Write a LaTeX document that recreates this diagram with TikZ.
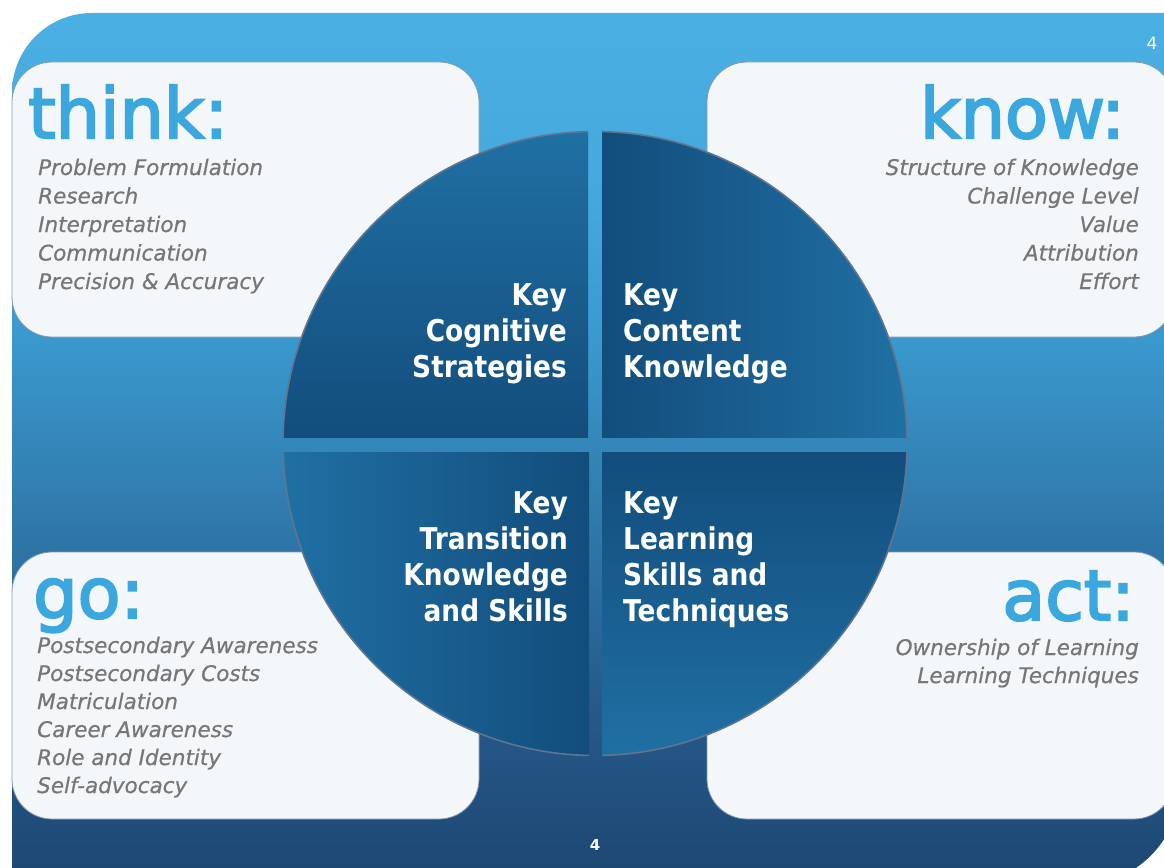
\documentclass[tikz,border=0pt]{standalone}
\usepackage{fontspec}
\setmainfont{DejaVu Sans}
\newfontfamily\headfont[FakeBold=3]{DejaVu Sans}
\newfontfamily\quadfont[FakeStretch=0.88]{DejaVu Sans}
\newfontfamily\itemfont[FakeBold=0.6]{DejaVu Sans}
\definecolor{bgA}{HTML}{1E4874}
\definecolor{bgB}{HTML}{265A8B}
\definecolor{bgC}{HTML}{2E74A6}
\definecolor{bgD}{HTML}{3587BB}
\definecolor{bgE}{HTML}{3A98CD}
\definecolor{bgF}{HTML}{45A8DD}
\definecolor{bgG}{HTML}{4AAFE2}
\definecolor{panelfill}{HTML}{F4F7FA}
\definecolor{paneledge}{HTML}{7F98B0}
\definecolor{headblue}{HTML}{3AA7DE}
\definecolor{itemgray}{HTML}{767676}
\definecolor{rimcol}{HTML}{5F7590}
\definecolor{qlight}{HTML}{2070A4}
\definecolor{qdark}{HTML}{124D7C}
\pgfdeclareverticalshading{bgshade}{100bp}{color(0bp)=(bgA); color(26.03bp)=(bgA); color(35.61bp)=(bgB); color(44.21bp)=(bgC); color(50.52bp)=(bgD); color(56.25bp)=(bgE); color(64.28bp)=(bgF); color(75bp)=(bgG); color(100bp)=(bgG)}
\tikzset{
  panel/.style={fill=panelfill, draw=paneledge, line width=0.8pt, rounded corners=40pt},
  rim/.style={draw=rimcol, line width=1.6pt},
  head/.style={inner sep=0pt, text=headblue, font=\headfont\fontsize{70}{80}\selectfont},
  item/.style={inner sep=0pt, text=itemgray, font=\itemfont\itshape\fontsize{21.5}{26}\selectfont},
  qtext/.style={inner sep=0pt, text=white, font=\quadfont\bfseries\fontsize{30}{36}\selectfont},
  pagenum/.style={inner sep=0pt, text=white}
}
\begin{document}
\begin{tikzpicture}[x=1pt,y=-1pt]
\useasboundingbox (0,0) rectangle (1164,867);
\fill[white] (0,0) rectangle (1164,867);
% blue background
\shade[shading=bgshade] (12,885) -- (12,93) .. controls (12,48.8) and (47.8,13) .. (92,13)
  -- (1180,13) -- (1180,785) .. controls (1180,840.2) and (1135.2,885) .. (1080,885) -- cycle;
% panels
\path[panel] (12,62) rectangle (479,337);
\path[panel] (707,62) rectangle (1174,337);
\path[panel] (12,552) rectangle (479,819);
\path[panel] (707,552) rectangle (1174,819);
% quadrants
\begin{scope}
  \clip (595,443.5) circle[radius=312pt];
  \shade[top color=qlight, bottom color=qdark] (280,130) rectangle (588,437);
  \shade[left color=qdark, right color=qlight] (602,130) rectangle (910,437);
  \shade[left color=qlight, right color=qdark] (280,452) rectangle (589,760);
  \shade[top color=qdark, bottom color=qlight] (602,452) rectangle (910,760);
\end{scope}
\begin{scope}
  \clip (270,120) rectangle (588,437);
  \draw[rim] (595,443.5) circle[radius=312pt];
\end{scope}
\begin{scope}
  \clip (602,120) rectangle (920,437);
  \draw[rim] (595,443.5) circle[radius=312pt];
\end{scope}
\begin{scope}
  \clip (270,452) rectangle (589,770);
  \draw[rim] (595,443.5) circle[radius=312pt];
\end{scope}
\begin{scope}
  \clip (602,452) rectangle (920,770);
  \draw[rim] (595,443.5) circle[radius=312pt];
\end{scope}
% quadrant texts
\node[qtext, anchor=base east] (cs1) at (567,305) {Key};
\node[qtext, anchor=base east] (cs2) at (567,341) {Cognitive};
\node[qtext, anchor=base east] (cs3) at (567,377) {Strategies};
\node[qtext, anchor=base west] (ck1) at (623,305) {Key};
\node[qtext, anchor=base west] (ck2) at (623,341) {Content};
\node[qtext, anchor=base west] (ck3) at (623,377) {Knowledge};
\node[qtext, anchor=base east] (tk1) at (568,513) {Key};
\node[qtext, anchor=base east] (tk2) at (568,549) {Transition};
\node[qtext, anchor=base east] (tk3) at (568,585) {Knowledge};
\node[qtext, anchor=base east] (tk4) at (568,621) {and Skills};
\node[qtext, anchor=base west] (ls1) at (623,513) {Key};
\node[qtext, anchor=base west] (ls2) at (623,549) {Learning};
\node[qtext, anchor=base west] (ls3) at (623,585) {Skills and};
\node[qtext, anchor=base west] (ls4) at (623,621) {Techniques};
% headings
\node[head, anchor=base west] (think) at (28,138) {think:};
\node[head, anchor=base east] (know) at (1125,138) {know:};
\node[head, anchor=base west] (go) at (33,618) {go:};
\node[head, anchor=base east] (act) at (1135,620) {act:};
% think items
\node[item, anchor=base west] (th1) at (38,175) {Problem Formulation};
\node[item, anchor=base west] (th2) at (38,203.5) {Research};
\node[item, anchor=base west] (th3) at (38,232) {Interpretation};
\node[item, anchor=base west] (th4) at (38,260.5) {Communication};
\node[item, anchor=base west] (th5) at (38,289) {Precision \& Accuracy};
% know items
\node[item, anchor=base east] (kn1) at (1139,175) {Structure of Knowledge};
\node[item, anchor=base east] (kn2) at (1139,203.5) {Challenge Level};
\node[item, anchor=base east] (kn3) at (1139,232) {Value};
\node[item, anchor=base east] (kn4) at (1139,260.5) {Attribution};
\node[item, anchor=base east] (kn5) at (1139,289) {Effort};
% go items
\node[item, anchor=base west] (go1) at (37,653) {Postsecondary Awareness};
\node[item, anchor=base west] (go2) at (37,681) {Postsecondary Costs};
\node[item, anchor=base west] (go3) at (37,709) {Matriculation};
\node[item, anchor=base west] (go4) at (37,737) {Career Awareness};
\node[item, anchor=base west] (go5) at (37,765) {Role and Identity};
\node[item, anchor=base west] (go6) at (37,793) {Self-advocacy};
% act items
\node[item, anchor=base east] (ac1) at (1139,655) {Ownership of Learning};
\node[item, anchor=base east] (ac2) at (1139,683) {Learning Techniques};
% page numbers
\node[pagenum, anchor=base, font=\fontsize{17}{20}\selectfont] (pn1) at (1152,50) {4};
\node[pagenum, anchor=base, font=\bfseries\fontsize{15}{18}\selectfont] (pn2) at (595,850) {4};
\end{tikzpicture}
\end{document}
